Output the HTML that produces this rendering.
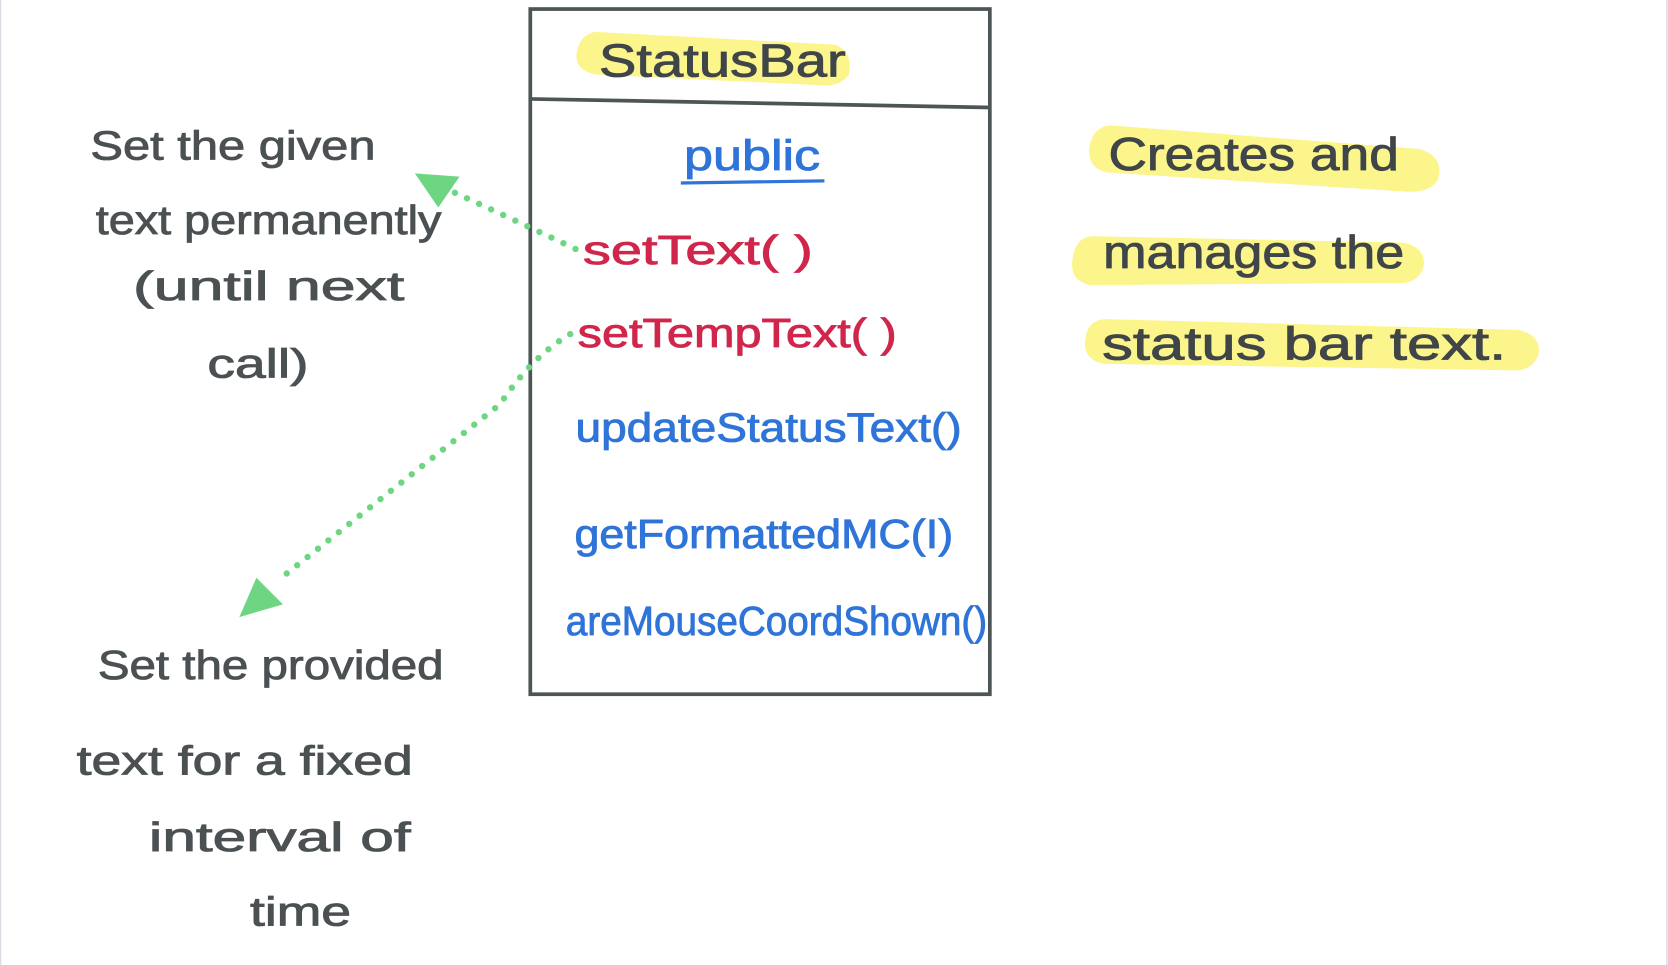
<!DOCTYPE html>
<html><head><meta charset="utf-8"><style>
html,body{margin:0;padding:0;background:#fff;width:1668px;height:965px;overflow:hidden}
svg{display:block}
text{font-family:"Liberation Sans",sans-serif}
</style></head><body>
<svg width="1668" height="965" viewBox="0 0 1568 907" preserveAspectRatio="none" xmlns="http://www.w3.org/2000/svg">
<line x1="0.5" y1="0" x2="0.5" y2="907" stroke="#dcdce4" stroke-width="1.5"/>
<line x1="1567" y1="0" x2="1567" y2="907" stroke="#dcdce4" stroke-width="1.5"/>
<path d="M560 30 L785 42 Q802 48 798 70 Q790 82 770 80 L560 70 Q540 66 542 50 Q545 32 560 30 Z" fill="#fbf58c"/>
<path d="M1045 118 L1335 140 Q1358 148 1352 168 Q1345 182 1320 180 L1040 162 Q1022 158 1024 138 Q1028 118 1045 118 Z" fill="#fbf58c"/>
<path d="M1028 222 L1320 228 Q1342 234 1338 252 Q1332 268 1310 266 L1025 268 Q1006 264 1008 246 Q1010 222 1028 222 Z" fill="#fbf58c"/>
<path d="M1040 300 L1428 310 Q1450 316 1446 334 Q1440 350 1418 348 L1038 342 Q1018 338 1020 320 Q1022 300 1040 300 Z" fill="#fbf58c"/>
<rect x="498.5" y="8.5" width="432" height="644" fill="none" stroke="#4e5556" stroke-width="3.5"/>
<line x1="498" y1="93" x2="931" y2="101" stroke="#4e5556" stroke-width="3.5"/>
<g stroke-width="0.8">
<text x="563" y="72" font-size="44" fill="#3f4548" stroke="#3f4548" textLength="232" lengthAdjust="spacingAndGlyphs">StatusBar</text>
<text x="643" y="160" font-size="40" fill="#2f74d8" stroke="#2f74d8" textLength="128" lengthAdjust="spacingAndGlyphs">public</text>
<text x="548" y="248" font-size="38" fill="#d1264b" stroke="#d1264b" textLength="216" lengthAdjust="spacingAndGlyphs">setText( )</text>
<text x="543" y="326" font-size="38" fill="#d1264b" stroke="#d1264b" textLength="300" lengthAdjust="spacingAndGlyphs">setTempText( )</text>
<text x="541" y="415" font-size="38" fill="#2f74d8" stroke="#2f74d8" textLength="363" lengthAdjust="spacingAndGlyphs">updateStatusText()</text>
<text x="540" y="515" font-size="38" fill="#2f74d8" stroke="#2f74d8" textLength="356" lengthAdjust="spacingAndGlyphs">getFormattedMC(I)</text>
<text x="532" y="597" font-size="38" fill="#2f74d8" stroke="#2f74d8" textLength="396" lengthAdjust="spacingAndGlyphs">areMouseCoordShown()</text>
<g font-size="44" fill="#3f4548" stroke="#3f4548">
<text x="1042" y="160" textLength="273" lengthAdjust="spacingAndGlyphs">Creates  and</text>
<text x="1037" y="252" textLength="283" lengthAdjust="spacingAndGlyphs">manages  the</text>
<text x="1036" y="338" textLength="380" lengthAdjust="spacingAndGlyphs">status  bar  text.</text>
</g>
<g font-size="38" fill="#4b5153" stroke="#4b5153">
<text x="85" y="150" textLength="268" lengthAdjust="spacingAndGlyphs">Set  the given</text>
<text x="90" y="220" textLength="325" lengthAdjust="spacingAndGlyphs">text  permanently</text>
<text x="125" y="282" textLength="255" lengthAdjust="spacingAndGlyphs">(until  next</text>
<text x="195" y="355" textLength="95" lengthAdjust="spacingAndGlyphs">call)</text>
<text x="92" y="638" textLength="325" lengthAdjust="spacingAndGlyphs">Set  the  provided</text>
<text x="72" y="728" textLength="316" lengthAdjust="spacingAndGlyphs">text for a fixed</text>
<text x="140" y="800" textLength="246" lengthAdjust="spacingAndGlyphs">interval of</text>
<text x="235" y="870" textLength="95" lengthAdjust="spacingAndGlyphs">time</text>
</g>
</g>
<line x1="640" y1="172" x2="775" y2="170" stroke="#2f74d8" stroke-width="3"/>
<g fill="none" stroke="#6ed682" stroke-width="6" stroke-linecap="round" stroke-dasharray="0 12.5">
<path d="M541 234 Q480 205 425 180"/>
<path d="M536 314 Q500 335 470 380 L262 545"/>
</g>
<polygon points="390,163 432,166 412,195" fill="#6ed682"/>
<polygon points="225,580 241,543 266,568" fill="#6ed682"/>
</svg>
</body></html>
